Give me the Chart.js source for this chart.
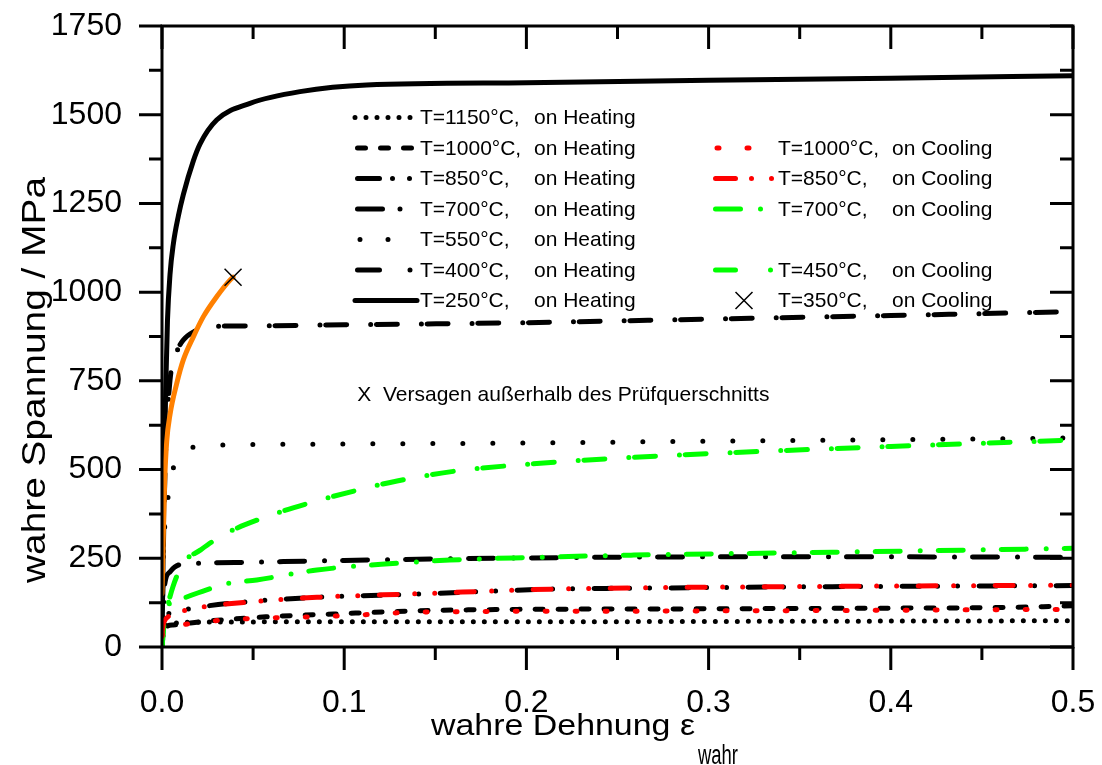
<!DOCTYPE html>
<html>
<head>
<meta charset="utf-8">
<script src="https://cdn.jsdelivr.net/npm/chart.js@4.4.0/dist/chart.umd.min.js"></script>
<style>
  body { margin: 0; background: #fff; }
  canvas { display: block; }
</style>
</head>
<body>
<canvas id="myChart" width="1102" height="765"></canvas>
<script>
const black = '#000000'
const red = '#ff0000'
const green = '#00ff00'
const orange = '#ff8000'
const fontName = '"Liberation Sans", Arial, Helvetica, sans-serif'

// tick labels
const xTicks = [0, 0.1, 0.2, 0.3, 0.4, 0.5]
const yTicks = [0, 250, 500, 750, 1000, 1250, 1500, 1750]

// T=1150°C heating
const eps1150h = [0, 0.001, 0.0044, 0.021, 0.1, 0.2, 0.3, 0.4, 0.5]
const sig1150h = [0, 50, 65, 70, 71, 71, 72, 73, 74]
// T=1000°C heating
const eps1000h = [0, 0.001, 0.006, 0.021, 0.057, 0.094, 0.14, 0.195, 0.259, 0.368, 0.469, 0.5]
const sig1000h = [0, 50, 62, 71, 85, 93, 102, 106, 107, 109, 112, 116]
// T=850°C heating
const eps850h = [0, 0.001, 0.0044, 0.0117, 0.021, 0.048, 0.085, 0.14, 0.213, 0.268, 0.368, 0.5]
const sig850h = [0, 70, 96, 104, 113, 128, 140, 149, 163, 166, 170, 173]
// T=700°C heating
const eps700h = [0, 0.0008, 0.0016, 0.0044, 0.009, 0.02, 0.05, 0.1, 0.2, 0.3, 0.4, 0.5]
const sig700h = [0, 120, 180, 212, 231, 236, 239, 244, 251, 254, 254, 253]
// T=550°C heating
const eps550h = [0, 0.0005, 0.0016, 0.0035, 0.0062, 0.0117, 0.02, 0.04, 0.1, 0.2, 0.3, 0.4, 0.5]
const sig550h = [0, 200, 349, 428, 504, 550, 565, 570, 572, 575, 580, 584, 589]
// T=400°C heating
const eps400h = [0, 0.001, 0.002, 0.0044, 0.008, 0.0117, 0.018, 0.024, 0.05, 0.1, 0.2, 0.3, 0.4, 0.5]
const sig400h = [0, 350, 550, 752, 830, 865, 890, 902, 905, 908, 914, 924, 934, 945]
// T=250°C heating
const eps250h = [0, 0.001, 0.002, 0.003, 0.0044, 0.0062, 0.009, 0.0117, 0.0172, 0.0209, 0.030, 0.0483, 0.0757, 0.1123, 0.2, 0.3, 0.4, 0.5]
const sig250h = [0, 420, 720, 920, 1050, 1135, 1215, 1275, 1370, 1418, 1485, 1532, 1565, 1584, 1590, 1597, 1603, 1610]

// T=1000°C cooling
const eps1000c = [0, 0.001, 0.005, 0.01, 0.034, 0.059, 0.081, 0.107, 0.132, 0.176, 0.259, 0.368, 0.5]
const sig1000c = [30, 50, 58, 62, 76, 82, 85, 90, 97, 100, 101, 103, 106]
// T=850°C cooling
const eps850c = [0, 0.001, 0.0062, 0.0117, 0.021, 0.048, 0.085, 0.14, 0.213, 0.268, 0.368, 0.5]
const sig850c = [40, 70, 90, 102, 112, 127, 140, 150, 163, 167, 171, 174]
// T=700°C cooling
const eps700c = [0, 0.0008, 0.0016, 0.004, 0.009, 0.0245, 0.037, 0.052, 0.085, 0.129, 0.158, 0.2, 0.259, 0.368, 0.5]
const sig700c = [0, 60, 100, 122, 132, 161, 180, 189, 217, 236, 245, 252, 259, 267, 278]
// T=450°C cooling
const eps450c = [0, 0.001, 0.0026, 0.006, 0.0117, 0.021, 0.0336, 0.055, 0.081, 0.112, 0.129, 0.16, 0.2, 0.25, 0.3, 0.4, 0.5]
const sig450c = [0, 60, 104, 170, 236, 273, 316, 363, 406, 448, 468, 495, 515, 532, 545, 565, 583]
// T=350°C cooling (broke at the end, marked with X)
const eps350c = [0, 0.0008, 0.0015, 0.0026, 0.0044, 0.0081, 0.0117, 0.0172, 0.0227, 0.030, 0.0373, 0.039]
const sig350c = [150, 330, 470, 580, 655, 743, 809, 874, 931, 987, 1034, 1042]
const eps350break = [0.039]
const sig350break = [1042]

const noteText = 'X  Versagen außerhalb des Prüfquerschnitts'
const xTitle = 'wahre Dehnung ε'
const xTitleSub = 'wahr'
const yTitle = 'wahre Spannung / MPa'

function pts(eps, sig) {
  return eps.map((e, i) => ({ x: e, y: sig[i] }))
}

function curve(label, eps, sig, color, dash, legendDash, legendOffset) {
  return {
    label: label,
    data: pts(eps, sig),
    borderColor: color,
    backgroundColor: color,
    borderWidth: 5,
    borderDash: dash,
    borderCapStyle: 'round',
    borderJoinStyle: 'round',
    pointRadius: 0,
    fill: false,
    tension: 0.4,
    cubicInterpolationMode: 'monotone',
    legendDash: legendDash || dash,
    legendOffset: legendOffset || 0
  }
}

const dots = [0, 11]
const dashed = [8, 15]
const dashDotDot = [18, 17.5, 0, 20, 0, 21.5]
const dashDot = [25, 20, 0, 18]
const sparseDots = [0, 30]
const dashGapDot = [21, 24, 0, 5.7]
const redDots = [2, 28]

// first dataset is drawn on top
var crossSet = {
  label: 'T=350°C, on Cooling',
  type: 'scatter',
  data: pts(eps350break, sig350break),
  borderColor: black,
  backgroundColor: black,
  pointStyle: 'crossRot',
  pointRadius: 12,
  pointBorderWidth: 1.5,
  showLine: false
}
var orangeSet = curve('', eps350c, sig350c, orange, [])
var c1000 = curve('T=1000°C, on Cooling', eps1000c, sig1000c, red, redDots, [2, 28, 2, 100], -4)
var c850 = curve('T=850°C, on Cooling', eps850c, sig850c, red, dashDotDot, [20, 16, 0, 20, 0, 40], -2.5)
var c700 = curve('T=700°C, on Cooling', eps700c, sig700c, green, dashDot, [25, 20, 0, 40], -2.5)
var c450 = curve('T=450°C, on Cooling', eps450c, sig450c, green, dashGapDot, [20, 35, 0, 40], -2.5)
var h1150 = curve('T=1150°C, on Heating', eps1150h, sig1150h, black, dots)
var h1000 = curve('T=1000°C, on Heating', eps1000h, sig1000h, black, dashed, null, -2.5)
var h850 = curve('T=850°C, on Heating', eps850h, sig850h, black, dashDotDot, [22, 13, 0, 17, 0, 40], -2.5)
var h700 = curve('T=700°C, on Heating', eps700h, sig700h, black, dashDot, [25, 17.5, 0, 40], -2.5)
var h550 = curve('T=550°C, on Heating', eps550h, sig550h, black, sparseDots, [0, 28, 0, 100], -5)
var h400 = curve('T=400°C, on Heating', eps400h, sig400h, black, dashGapDot, [22, 30.5, 0, 40], -2.5)
var h250 = curve('T=250°C, on Heating', eps250h, sig250h, black, [])

var datasets = [crossSet, orangeSet, c1000, c850, c700, c450, h1150, h1000, h850, h700, h550, h400, h250]

var legendLeft = [h1150, h1000, h850, h700, h550, h400, h250]
var legendRight = [null, c1000, c850, c700, null, c450, crossSet]

function drawX(ctx, x, y, r) {
  var d = r * Math.SQRT1_2
  ctx.save()
  ctx.setLineDash([])
  ctx.strokeStyle = black
  ctx.lineWidth = 1.5
  ctx.beginPath()
  ctx.moveTo(x - d, y - d); ctx.lineTo(x + d, y + d)
  ctx.moveTo(x - d, y + d); ctx.lineTo(x + d, y - d)
  ctx.stroke()
  ctx.restore()
}

// stretch text to a given width (and optionally taller)
function wideText(ctx, text, x, y, size, width, tall) {
  ctx.save()
  ctx.font = size + 'px ' + fontName
  var w = ctx.measureText(text).width
  ctx.translate(x, y)
  ctx.scale(width / w, tall || 1)
  ctx.fillText(text, 0, 0)
  ctx.restore()
}

function noPad(s) {
  s.paddingLeft = 0
  s.paddingRight = 0
  s.paddingTop = 0
  s.paddingBottom = 0
}

const framePlugin = {
  id: 'frame',
  afterDatasetsDraw(chart) {
    var ctx = chart.ctx
    var a = chart.chartArea
    var xs = chart.scales.x
    var ys = chart.scales.y
    ctx.save()
    ctx.strokeStyle = black
    ctx.lineWidth = 3
    ctx.lineCap = 'butt'
    ctx.setLineDash([])
    ctx.strokeRect(a.left, a.top, a.right - a.left, a.bottom - a.top)
    ctx.beginPath()
    for (var i = 0; i <= 10; i++) {
      var px = xs.getPixelForValue(i * 0.05)
      var len = i % 2 === 0 ? 23 : 13
      ctx.moveTo(px, a.bottom); ctx.lineTo(px, a.bottom + len)
      ctx.moveTo(px, a.top); ctx.lineTo(px, a.top + len)
    }
    for (var j = 0; j <= 14; j++) {
      var py = ys.getPixelForValue(j * 125)
      var len2 = j % 2 === 0 ? 23 : 13
      ctx.moveTo(a.left, py); ctx.lineTo(a.left - len2, py)
      ctx.moveTo(a.right, py); ctx.lineTo(a.right - len2, py)
    }
    ctx.stroke()
    ctx.restore()
  },
  afterDraw(chart) {
    var ctx = chart.ctx
    var a = chart.chartArea
    var xs = chart.scales.x
    var ys = chart.scales.y
    ctx.save()
    ctx.fillStyle = black
    ctx.textAlign = 'left'
    ctx.textBaseline = 'alphabetic'

    // legend, two columns
    var cols = [
      { list: legendLeft, x0: a.left + 193, x1: a.left + 255, tx: a.left + 258 },
      { list: legendRight, x0: a.left + 551, x1: a.left + 613, tx: a.left + 616 }
    ]
    ctx.font = '21px ' + fontName
    cols.forEach(col => {
      col.list.forEach((ds, i) => {
        if (!ds) return
        var y = a.top + 91.5 + i * 30.5
        if (ds === crossSet) {
          drawX(ctx, (col.x0 + col.x1) / 2, y, 12)
        } else {
          ctx.save()
          ctx.strokeStyle = ds.borderColor
          ctx.lineWidth = ds.borderWidth
          ctx.lineCap = 'round'
          ctx.setLineDash(ds.legendDash)
          ctx.lineDashOffset = ds.legendOffset
          ctx.beginPath()
          ctx.moveTo(col.x0, y)
          ctx.lineTo(col.x1, y)
          ctx.stroke()
          ctx.restore()
        }
        var parts = ds.label.split(', ')
        ctx.fillText(parts[0] + ',', col.tx, y + 6.5)
        ctx.fillText(parts[1], col.tx + 114, y + 6.5)
      })
    })

    // note about the X
    ctx.font = '21px ' + fontName
    ctx.fillText(noteText, xs.getPixelForValue(0.1072), ys.getPixelForValue(693))

    // axis titles
    wideText(ctx, xTitle, 431, 735, 30, 264)
    wideText(ctx, xTitleSub, 698, 764, 21, 40, 1.3)
    ctx.save()
    ctx.translate(45, 583)
    ctx.rotate(-Math.PI / 2)
    wideText(ctx, yTitle, 0, 0, 33, 406)
    ctx.restore()
    ctx.restore()
  }
}

var ctx = document.getElementById('myChart')
var lineChart = new Chart(ctx, {
  type: 'line',
  data: { datasets: datasets },
  options: {
    responsive: false,
    animation: false,
    devicePixelRatio: 1,
    layout: { padding: { left: 0, top: 26, right: 29, bottom: 0 } },
    plugins: {
      legend: { display: false },
      tooltip: { enabled: false }
    },
    scales: {
      x: {
        type: 'linear',
        min: xTicks[0],
        max: xTicks[xTicks.length - 1],
        afterBuildTicks: s => { s.ticks = xTicks.map(v => ({ value: v })) },
        afterFit: s => { s.height = 118; noPad(s) },
        grid: { display: false },
        border: { display: false },
        ticks: {
          color: black,
          padding: 29,
          maxRotation: 0,
          autoSkip: false,
          font: { family: fontName, size: 32 },
          callback: v => v.toFixed(1)
        }
      },
      y: {
        type: 'linear',
        min: yTicks[0],
        max: yTicks[yTicks.length - 1],
        afterBuildTicks: s => { s.ticks = yTicks.map(v => ({ value: v })) },
        afterFit: s => { s.width = 162; noPad(s) },
        grid: { display: false },
        border: { display: false },
        ticks: {
          color: black,
          padding: 32,
          autoSkip: false,
          font: { family: fontName, size: 32 },
          callback: v => String(v)
        }
      }
    }
  },
  plugins: [framePlugin]
})
</script>
</body>
</html>
